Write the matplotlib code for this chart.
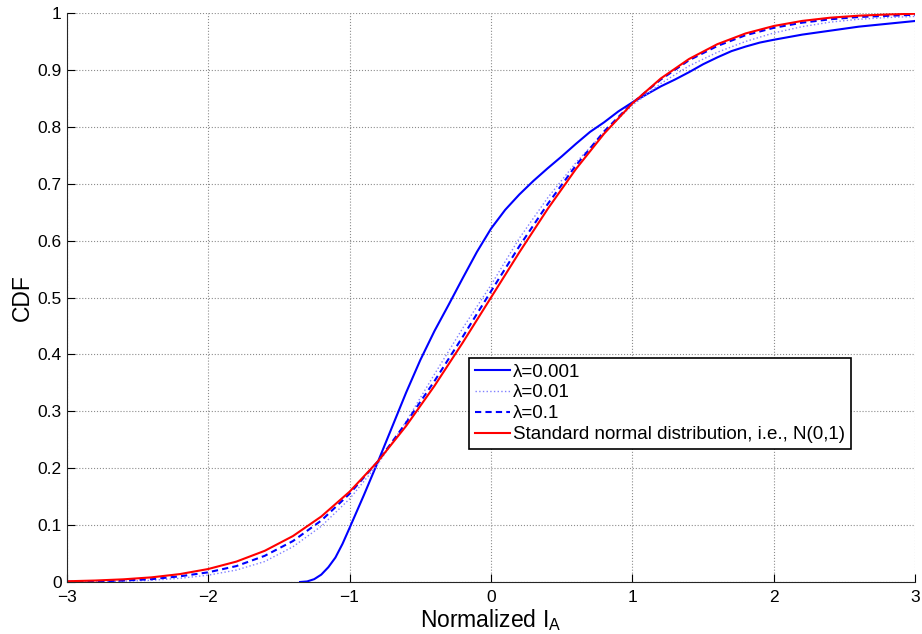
import numpy as np
import matplotlib
matplotlib.use('Agg')
import matplotlib.pyplot as plt

plt.rcParams['font.family'] = ['Liberation Sans', 'DejaVu Sans']
plt.rcParams['mathtext.fontset'] = 'custom'
plt.rcParams['mathtext.rm'] = 'Liberation Sans'

# common grid for the smooth CDFs
x_grid = [-3.0, -2.8, -2.6, -2.4, -2.2, -2.0, -1.8, -1.6, -1.4, -1.2, -1.0,
          -0.8, -0.6, -0.4, -0.2, 0.0, 0.2, 0.4, 0.6, 0.8, 1.0,
          1.2, 1.4, 1.6, 1.8, 2.0, 2.2, 2.4, 2.6, 2.8, 3.0]

cdf_normal = [0.0013, 0.0026, 0.0047, 0.0082, 0.0139, 0.0228, 0.0359, 0.0548, 0.0808, 0.1151, 0.1587,
              0.2119, 0.2743, 0.3446, 0.4207, 0.5000, 0.5793, 0.6554, 0.7257, 0.7881, 0.8413,
              0.8849, 0.9192, 0.9452, 0.9641, 0.9772, 0.9861, 0.9918, 0.9953, 0.9974, 0.9987]

cdf_lam_01 = [0.0005, 0.0010, 0.0025, 0.0050, 0.0100, 0.0170, 0.0280, 0.0460, 0.0720, 0.1080, 0.1550,
              0.2120, 0.2800, 0.3530, 0.4310, 0.5110, 0.5900, 0.6640, 0.7320, 0.7920, 0.8420,
              0.8830, 0.9170, 0.9420, 0.9610, 0.9740, 0.9830, 0.9890, 0.9930, 0.9950, 0.9970]

cdf_lam_001 = [0.0003, 0.0006, 0.0015, 0.0030, 0.0065, 0.0120, 0.0210, 0.0360, 0.0620, 0.0980, 0.1460,
               0.2070, 0.2820, 0.3650, 0.4460, 0.5220, 0.6040, 0.6750, 0.7370, 0.7900, 0.8380,
               0.8760, 0.9070, 0.9310, 0.9500, 0.9650, 0.9760, 0.9840, 0.9890, 0.9920, 0.9940]

# lambda = 0.001 has its own support (starts around -1.33)
x_lam_0001 = [-1.35, -1.3, -1.25, -1.2, -1.15, -1.1, -1.05, -1.0, -0.9, -0.8, -0.7, -0.6, -0.5, -0.4, -0.3,
              -0.2, -0.1, 0.0, 0.1, 0.2, 0.3, 0.4, 0.5, 0.6, 0.7, 0.8, 0.9, 1.0, 1.1, 1.2, 1.3,
              1.4, 1.5, 1.6, 1.7, 1.8, 1.9, 2.0, 2.2, 2.4, 2.6, 2.8, 3.0]
cdf_lam_0001 = [0.0, 0.001, 0.005, 0.013, 0.026, 0.043, 0.067, 0.095, 0.152, 0.211, 0.272, 0.333, 0.390, 0.441, 0.487,
                0.534, 0.580, 0.621, 0.654, 0.681, 0.705, 0.727, 0.748, 0.770, 0.791, 0.808, 0.827, 0.843, 0.857, 0.871, 0.883,
                0.896, 0.910, 0.922, 0.933, 0.941, 0.948, 0.953, 0.962, 0.969, 0.976, 0.981, 0.986]

fig = plt.figure(figsize=(9.22, 6.34), dpi=100)
ax = fig.add_axes([0.0723, 0.082, 0.9205, 0.8975])

ax.plot(x_lam_0001, cdf_lam_0001, color='blue', lw=1.5, label='λ=0.001')
ax.plot(x_grid, cdf_lam_001, color=(0.5, 0.5, 1.0), lw=1.0, ls=':', label='λ=0.01')
ax.plot(x_grid, cdf_lam_01, color='blue', lw=1.5, ls='--', dashes=(3, 2), label='λ=0.1')
ax.plot(x_grid, cdf_normal, color='red', lw=1.5, label='Standard normal distribution, i.e., N(0,1)')

ax.set_xlim(-3, 3)
ax.set_ylim(0, 1)
ax.set_xticks(np.arange(-3, 4, 1))
ax.set_yticks(np.arange(0, 1.01, 0.1))
ax.set_yticklabels(['0', '0.1', '0.2', '0.3', '0.4', '0.5', '0.6', '0.7', '0.8', '0.9', '1'])

ax.grid(True, ls=':', color=(0.55, 0.55, 0.55), lw=0.8)
ax.spines['top'].set_visible(False)
ax.spines['right'].set_visible(False)
for s in ('left', 'bottom'):
    ax.spines[s].set_color((0.15, 0.15, 0.15))
    ax.spines[s].set_linewidth(0.8)
ax.tick_params(direction='in', length=6, width=0.8, labelsize=12.5, colors='black')
ax.tick_params(axis='x', pad=5.5)
ax.tick_params(axis='y', pad=3.5)

ax.set_xlabel(r'Normalized I$_\mathregular{A}$', fontsize=16.5, labelpad=2)
ax.set_ylabel('CDF', fontsize=16.5, labelpad=3)

leg = ax.legend(loc='lower left', bbox_to_anchor=(0.474, 0.234), fontsize=13.5,
                fancybox=False, framealpha=1, edgecolor='black', handlelength=1.9,
                handletextpad=0.15, labelspacing=0.2, borderpad=0.3, borderaxespad=0)
leg.get_frame().set_linewidth(1.2)

fig.savefig('out.png', dpi=100)
